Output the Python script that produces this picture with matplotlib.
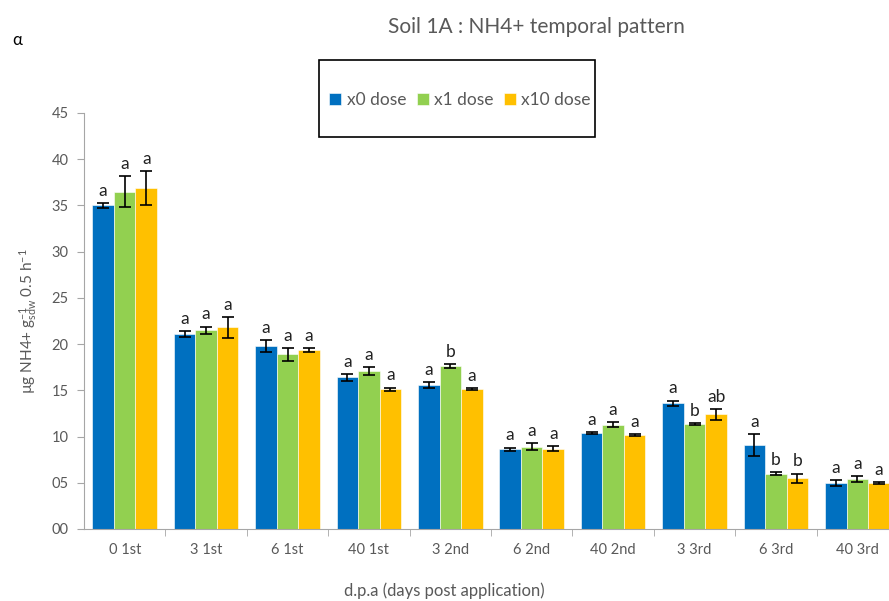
import numpy as np
import matplotlib.pyplot as plt
from matplotlib.patches import Rectangle

plt.rcParams['font.family'] = ['Lato', 'DejaVu Sans']
plt.rcParams['mathtext.fontset'] = 'custom'
plt.rcParams['mathtext.rm'] = 'Lato'
plt.rcParams['mathtext.it'] = 'Lato'

categories = ['0 1st', '3 1st', '6 1st', '40 1st', '3 2nd', '6 2nd',
              '40 2nd', '3 3rd', '6 3rd', '40 3rd']
series = ['x0 dose', 'x1 dose', 'x10 dose']
x0 = [35.0, 21.1, 19.8, 16.4, 15.6, 8.6, 10.4, 13.6, 9.1, 5.0]
x1 = [36.5, 21.5, 18.9, 17.1, 17.6, 8.9, 11.3, 11.4, 6.0, 5.4]
x10 = [36.9, 21.8, 19.4, 15.1, 15.1, 8.7, 10.2, 12.4, 5.5, 5.0]
x0_err = [0.3, 0.3, 0.6, 0.4, 0.3, 0.2, 0.1, 0.3, 1.2, 0.3]
x1_err = [1.7, 0.4, 0.7, 0.4, 0.2, 0.4, 0.3, 0.1, 0.2, 0.3]
x10_err = [1.8, 1.1, 0.2, 0.2, 0.1, 0.3, 0.1, 0.6, 0.5, 0.1]
x0_let = ['a'] * 10
x1_let = ['a', 'a', 'a', 'a', 'b', 'a', 'a', 'b', 'b', 'a']
x10_let = ['a', 'a', 'a', 'a', 'a', 'a', 'a', 'ab', 'b', 'a']

colors = ['#0070C0', '#92D050', '#FFC000']
gray = '#595959'
spine_gray = '#A6A6A6'

fig = plt.figure(figsize=(8.89, 6.01), dpi=100)
ax = fig.add_axes([84/889, 1 - 529/601, 814/889, 416/601])

pos = np.arange(len(categories))
w = 0.265
data = [(x0, x0_err, x0_let), (x1, x1_err, x1_let), (x10, x10_err, x10_let)]
for j, (vals, errs, lets) in enumerate(data):
    xs = pos + (j - 1) * w
    ax.bar(xs, vals, w, color=colors[j], label=series[j],
           edgecolor='white', linewidth=0.4)
    ax.errorbar(xs, vals, yerr=errs, fmt='none', ecolor='black',
                elinewidth=1.2, capsize=4, capthick=1.2)
    for xx, v, e, t in zip(xs, vals, errs, lets):
        ax.annotate(t, (xx, v + e), xytext=(0, 3), textcoords='offset points',
                    ha='center', va='bottom', fontsize=12.5, color='#222222')

ax.set_xlim(-0.5, len(categories) - 0.5)
ax.set_ylim(0, 45)
ax.set_yticks(np.arange(0, 46, 5))
ax.set_yticklabels(['%02d' % v for v in range(0, 46, 5)])
ax.set_xticks(pos)
ax.set_xticklabels(categories)
ax.set_xticks(np.arange(0.5, len(categories) - 0.5), minor=True)
ax.tick_params(axis='x', which='major', length=0, pad=10, labelsize=10.5, labelcolor=gray)
ax.tick_params(axis='x', which='minor', length=5, color=spine_gray, direction='out')
ax.tick_params(axis='y', length=5, color=spine_gray, labelsize=10.5, labelcolor=gray, pad=6)
for s in ['top', 'right']:
    ax.spines[s].set_visible(False)
for s in ['left', 'bottom']:
    ax.spines[s].set_color(spine_gray)

ax.set_ylabel(r'µg NH4+ g$^{-1}_{\mathrm{sdw}}$ 0.5 h$^{-1}$', fontsize=11, color=gray, labelpad=9)
fig.text(444/889, 1 - 591/601, 'd.p.a (days post application)', ha='center', va='center',
         fontsize=12, color=gray)
fig.text(536/889, 1 - 27/601, 'Soil 1A : NH4+ temporal pattern', ha='center', va='center',
         fontsize=15, color=gray)
fig.text(0.014, 1 - 40/601, 'α', ha='left', va='center', fontsize=12, color='black')

fig.patches.append(Rectangle((319/889, 1 - 137/601), 276/889, 77/601,
                             transform=fig.transFigure, fill=False,
                             edgecolor='black', linewidth=1.2))
leg = fig.legend(loc='center', bbox_to_anchor=(460/889, 1 - 100/601), ncol=3,
                 frameon=False, handlelength=0.7, handleheight=0.7,
                 handletextpad=0.3, columnspacing=0.6, fontsize=12.5)
for t in leg.get_texts():
    t.set_color(gray)

fig.savefig('out.png', dpi=100)
